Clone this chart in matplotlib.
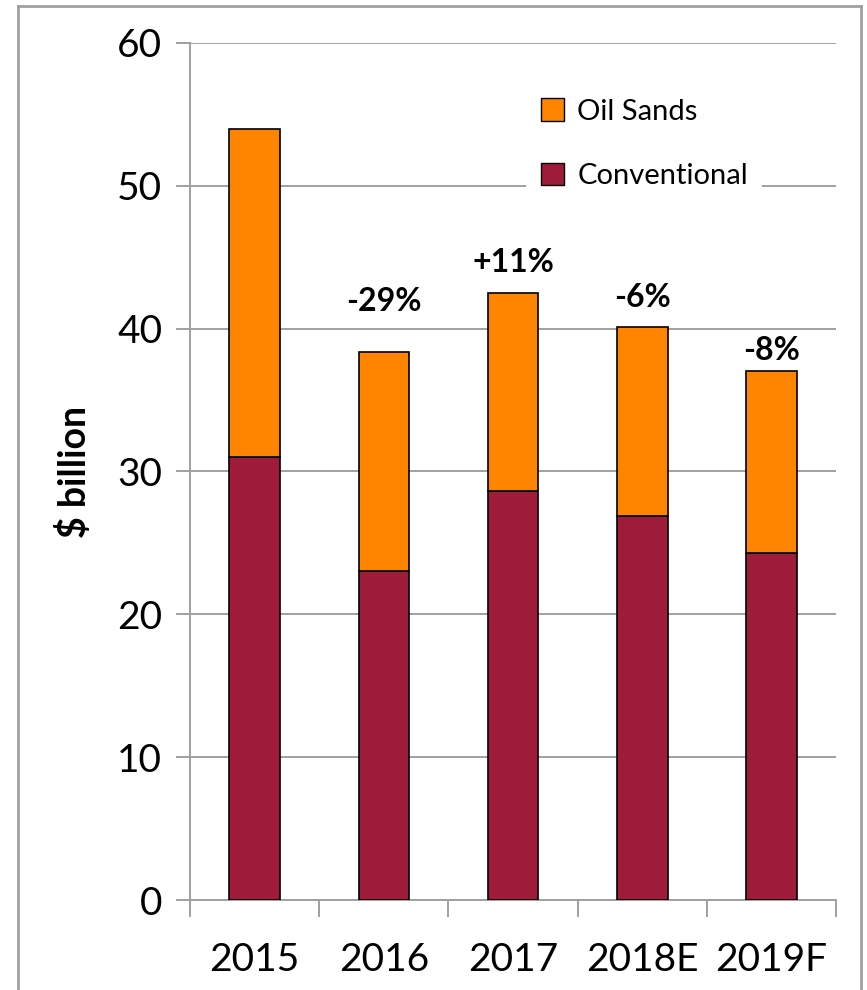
import numpy as np
import matplotlib.pyplot as plt
from matplotlib.lines import Line2D
from matplotlib.patches import Patch

plt.rcParams['font.family'] = ['Lato', 'DejaVu Sans']

# Data ($ billion)
years = ['2015', '2016', '2017', '2018E', '2019F']
conventional = [31.0, 23.0, 28.6, 26.9, 24.3]
oil_sands = [23.0, 15.4, 13.9, 13.2, 12.7]
changes = ['', '-29%', '+11%', '-6%', '-8%']
change_y = [0, 41.9, 44.6, 42.2, 38.5]

orange = '#FF8500'
maroon = '#9E1C39'
grey = '#A0A0A0'

fig = plt.figure(figsize=(8.67, 9.9), dpi=100)
ax = fig.add_axes([0.2191, 0.0909, 0.7455, 0.8657])

x = np.arange(len(years))
ax.bar(x, conventional, width=0.39, color=maroon, edgecolor='black', linewidth=1.2, zorder=3)
ax.bar(x, oil_sands, width=0.39, bottom=conventional, color=orange, edgecolor='black',
       linewidth=1.2, zorder=3)

for i, lab in enumerate(changes):
    if lab:
        ax.text(x[i], change_y[i], lab, ha='center', va='center', fontsize=23,
                fontweight='bold', zorder=4)

ax.set_xlim(-0.5, len(years) - 0.5)
ax.set_ylim(0, 60)
ax.set_yticks(np.arange(0, 61, 10))
ax.set_xticks(x)
ax.set_xticklabels(years)
ax.set_xticks(np.arange(-0.5, len(years)), minor=True)
ax.tick_params(axis='x', which='major', length=0, pad=30, labelsize=28)
ax.tick_params(axis='x', which='minor', length=12, width=1.4, color=grey)
ax.tick_params(axis='y', length=10, width=1.4, color=grey, labelsize=28, pad=10)

ax.yaxis.grid(True, color=grey, linewidth=1.4, zorder=0)
ax.set_axisbelow(True)
for s in ['top', 'right']:
    ax.spines[s].set_visible(False)
for s in ['left', 'bottom']:
    ax.spines[s].set_color(grey)
    ax.spines[s].set_linewidth(1.4)

ax.set_ylabel('$ billion', fontsize=27, fontweight='bold', labelpad=18)

handles = [Patch(facecolor=orange, edgecolor='black', label='Oil Sands'),
           Patch(facecolor=maroon, edgecolor='black', label='Conventional')]
leg = ax.legend(handles=handles, loc='upper left', bbox_to_anchor=(0.59, 0.93),
                bbox_transform=fig.transFigure, fontsize=21, frameon=True,
                facecolor='white', edgecolor='none', framealpha=1, fancybox=False,
                labelspacing=1.3, handlelength=0.8, handleheight=0.8, handletextpad=0.45,
                borderpad=0.5)
leg.set_zorder(5)

# outer frame
for xs, ys in [([18 / 867, 18 / 867], [0, 1 - 6 / 990]),
               ([18 / 867, 861 / 867], [1 - 6 / 990, 1 - 6 / 990]),
               ([861 / 867, 861 / 867], [1 - 6 / 990, 0])]:
    fig.add_artist(Line2D(xs, ys, color=grey, linewidth=2))

fig.savefig('out.png', dpi=100)
